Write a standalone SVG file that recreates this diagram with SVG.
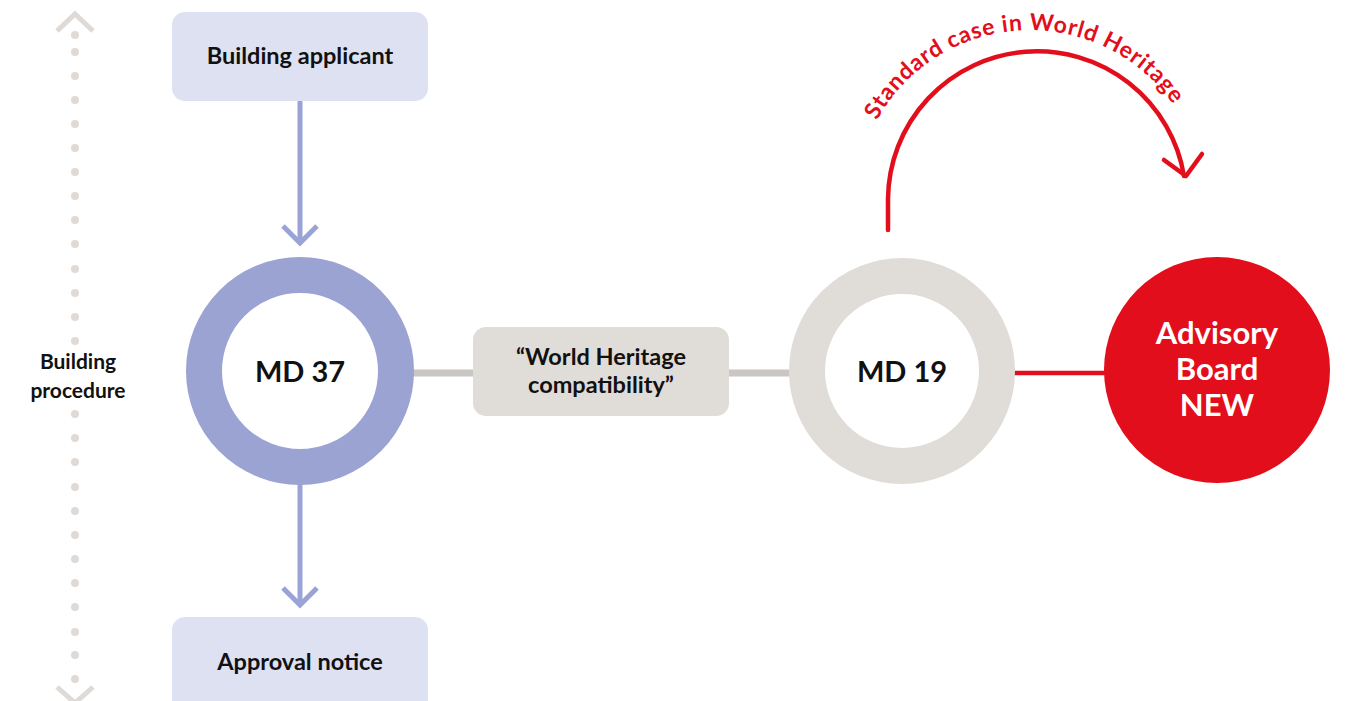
<svg xmlns="http://www.w3.org/2000/svg" width="1349" height="701" viewBox="0 0 1349 701">
  <defs>
    <style>
      .lbl { font-family: Lato, "Open Sans", "Liberation Sans", sans-serif; font-weight: 700; fill: #111111; text-anchor: middle; }
      .box-blue { fill: #dde1f2; }
      .box-gray { fill: #e0dcd8; }
      .flow { fill: none; stroke: #9aa3d5; stroke-width: 5; }
      .link { fill: none; stroke: #cac6c1; stroke-width: 7; }
      .red { fill: none; stroke: #e30e1b; stroke-width: 4.5; stroke-linecap: round; stroke-linejoin: round; }
      .dot { fill: #dfdad6; }
      .chev { fill: none; stroke: #dfdad6; stroke-width: 5; }
    </style>
    <!-- baseline circle for the curved caption, centre (1030,205), r 175 -->
    <path id="arcText" d="M 867.8 139.4 A 175 175 0 0 1 1184.5 122.9"/>
  </defs>

  <!-- procedure axis: dotted vertical scale -->
  <g id="procedure-axis">
    <polyline class="chev" points="57,31 75,14 93,31"/>
    <polyline class="chev" points="57,687 75,703 93,687"/>
    <g>
      <circle class="dot" cx="75" cy="35" r="4"/>
      <circle class="dot" cx="75" cy="52" r="4"/>
      <circle class="dot" cx="75" cy="76" r="4"/>
      <circle class="dot" cx="75" cy="100" r="4"/>
      <circle class="dot" cx="75" cy="124" r="4"/>
      <circle class="dot" cx="75" cy="148" r="4"/>
      <circle class="dot" cx="75" cy="172" r="4"/>
      <circle class="dot" cx="75" cy="196" r="4"/>
      <circle class="dot" cx="75" cy="220" r="4"/>
      <circle class="dot" cx="75" cy="244" r="4"/>
      <circle class="dot" cx="75" cy="269" r="4"/>
      <circle class="dot" cx="75" cy="293" r="4"/>
      <circle class="dot" cx="75" cy="317" r="4"/>
      <circle class="dot" cx="75" cy="341" r="4"/>
      <circle class="dot" cx="75" cy="414" r="4"/>
      <circle class="dot" cx="75" cy="438" r="4"/>
      <circle class="dot" cx="75" cy="462" r="4"/>
      <circle class="dot" cx="75" cy="487" r="4"/>
      <circle class="dot" cx="75" cy="511" r="4"/>
      <circle class="dot" cx="75" cy="535" r="4"/>
      <circle class="dot" cx="75" cy="559" r="4"/>
      <circle class="dot" cx="75" cy="583" r="4"/>
      <circle class="dot" cx="75" cy="607" r="4"/>
      <circle class="dot" cx="75" cy="632" r="4"/>
      <circle class="dot" cx="75" cy="655" r="4"/>
      <circle class="dot" cx="75" cy="679" r="4"/>
    </g>
    <text class="lbl" x="78" y="369" font-size="21">Building</text>
    <text class="lbl" x="78" y="398" font-size="21">procedure</text>
  </g>

  <!-- connectors -->
  <g id="connectors">
    <line class="flow" x1="300" y1="101" x2="300" y2="242"/>
    <polyline class="flow" points="283,226 300,243 317,226"/>
    <line class="flow" x1="300" y1="484" x2="300" y2="604"/>
    <polyline class="flow" points="283,588 300,605 317,588"/>
    <line class="link" x1="412" y1="373" x2="474" y2="373"/>
    <line class="link" x1="728" y1="373" x2="790" y2="373"/>
    <line class="red" x1="1014" y1="373" x2="1106" y2="373" stroke-linecap="butt"/>
    <path class="red" d="M 888 230 L 888 199 A 149 149 0 0 1 1184 176"/>
    <polyline class="red" points="1164,160 1186,176 1202,154"/>
    <text font-family="Lato, 'Open Sans', 'Liberation Sans', sans-serif" font-weight="700" font-size="23" fill="#e30e1b" letter-spacing="0.8">
      <textPath href="#arcText" startOffset="50%" text-anchor="middle">Standard case in World Heritage</textPath>
    </text>
  </g>

  <g id="building-applicant">
    <rect class="box-blue" x="172" y="12" width="256" height="89" rx="13"/>
    <text class="lbl" x="300" y="64" font-size="23.5">Building applicant</text>
  </g>

  <g id="approval-notice">
    <rect class="box-blue" x="172" y="617" width="256" height="95" rx="13"/>
    <text class="lbl" x="300" y="670" font-size="23.5">Approval notice</text>
  </g>

  <g id="md37">
    <circle cx="300" cy="371" r="96" fill="#ffffff" stroke="#9ba3d3" stroke-width="36"/>
    <text class="lbl" x="300" y="382" font-size="29">MD 37</text>
  </g>

  <g id="world-heritage-compatibility">
    <rect class="box-gray" x="473" y="327" width="256" height="89" rx="13"/>
    <text class="lbl" x="601" y="365" font-size="23.5">“World Heritage</text>
    <text class="lbl" x="601" y="393" font-size="23.5">compatibility”</text>
  </g>

  <g id="md19">
    <circle cx="902" cy="371" r="95" fill="#ffffff" stroke="#e0dcd8" stroke-width="36"/>
    <text class="lbl" x="902" y="382" font-size="29">MD 19</text>
  </g>

  <g id="advisory-board">
    <circle cx="1217" cy="370" r="113" fill="#e30e1b"/>
    <text class="lbl" x="1217" y="344" font-size="31" style="fill:#ffffff">Advisory</text>
    <text class="lbl" x="1217" y="380" font-size="31" style="fill:#ffffff">Board</text>
    <text class="lbl" x="1217" y="416" font-size="31" style="fill:#ffffff">NEW</text>
  </g>
</svg>
